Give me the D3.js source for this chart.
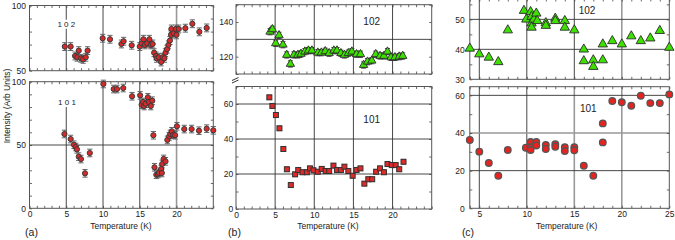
<!DOCTYPE html>
<html><head><meta charset="utf-8">
<script src="https://cdn.jsdelivr.net/npm/d3@7"></script>
<style>body{margin:0;background:#fff}text{font-family:"Liberation Sans",Arial,sans-serif;fill:#222}</style>
</head><body><svg id="c" width="675" height="240"></svg>
<script>
// ---------- data ----------
const a102T = [4.8,5.6,6.2,6.5,6.7,7.0,7.3,7.65,7.9,9.95,10.95,12.5,12.8,13.9,15.0,15.25,15.5,15.7,16.0,16.3,16.5,16.75,16.95,17.2,17.3,17.6,17.9,18.1,18.35,18.5,18.7,18.9,19.1,19.25,19.3,19.6,19.9,20.0,20.3,21.2,22.15,23.1,24.1];
const a102I = [68.5,68.5,61.3,60.3,65.4,59.5,58.7,60.3,65.4,74.9,74.1,70.5,72.6,69.5,68.5,71,74.1,69.8,71,74.1,69.8,70.5,63.8,61.3,59.5,60.3,56.7,60.3,59.5,63.8,66.5,69.8,73.1,77.5,82,78.7,82,77.5,82,82.6,86,79.8,82.8];
const a101T = [4.75,5.6,6.05,6.3,6.45,6.7,7.0,7.55,8.2,10.05,11.45,11.9,12.75,13.95,15.05,15.25,15.45,15.6,15.8,16.1,16.25,16.5,16.7,16.85,17.0,17.25,17.45,17.6,17.9,18.0,18.05,18.25,18.5,18.75,19.0,19.15,19.35,19.55,19.8,20.05,21.05,22.05,23.05,24.1,25.0];
const a101I = [58.7,54.7,50.2,48.4,46.6,40.8,38.9,27.6,43.7,98.2,94.2,94.2,95,88.5,89.2,81.8,84,80.8,82.6,87.7,84,80.8,85,57.7,32.4,26.5,27.1,27.9,31,27.9,35,39,37.1,54,56.8,58.7,60.8,58.1,57.7,64.8,62.6,62.6,61.3,62.9,61.6];
const b102T = [4.35,4.65,5.07,5.5,6.0,6.48,6.95,7.4,7.9,8.3,8.8,9.25,9.7,10.45,10.9,11.4,11.9,12.5,12.9,13.4,13.85,14.35,14.8,15.4,15.9,16.3,16.8,17.35,17.85,18.4,18.9,19.35,19.8,20.3,20.85,21.3];
const b102I = [134.4,135.8,127.7,132.3,126.9,121,115.8,121,121,121.6,122.9,123.5,123.5,122.3,122.3,123.1,122,123.5,123.5,122,121,122,122.9,121.4,121.4,115.2,117.1,117.7,121.4,120.4,120.4,122.9,119.6,119.6,120,120.4];
const b101T = [4.26,4.65,5.1,5.55,6.05,6.5,7.0,7.55,7.95,8.5,9.05,9.45,9.9,10.45,10.95,11.45,11.9,12.45,12.9,13.4,13.85,14.35,14.9,15.4,15.9,16.4,16.9,17.4,17.9,18.4,18.9,19.35,19.9,20.4,20.85,21.4];
const b101I = [63.8,58.9,53.7,46.1,34.3,22.7,13.7,19.8,22.3,21,21,23.2,22.1,21.3,22.9,21.7,21.7,24.8,22.3,22.3,24.2,21.7,19,22.3,23.2,14.5,17,17,21.3,23.2,21,25.7,25.1,25.1,22.7,27];
const c102T = [4,5,6,7,8,9.7,9.95,10.4,10.5,10.5,10.5,10.75,11,11.1,12,12,13,13,14,14,15,16,16,17,17,18,18,19,20,21,22,23,24,25];
const c102I = [40.3,38.4,37.3,35.8,46.4,52.9,50,52.5,50.9,48.7,47.3,50,52,49.5,48.8,47.9,50.3,49.5,49.5,47.3,46.4,40,36.1,36.4,34.2,36.4,41.7,42.8,41.7,44.4,42.8,43.7,46.2,40.6];
const c101T = [4,5,6,7,8,9.9,10.4,10.4,10.4,11,11,12,12,13,13,14,14,15,15,16,17,18,18,19,20,21,22,23,24,25];
const c101I = [36.3,30.1,24.1,17.3,31,32.2,35.2,32.4,31,35.2,33.4,33.6,31.5,34,32.7,32.4,30.4,32.4,30.8,22.6,17.3,35,45.1,57,56.3,54.5,59.8,55.9,55.9,60.5];
const errA = 3, errB = 1.2;
const xTicksAB = [0,5,10,15,20], xTicksC = [5,10,15,20,25];
const yTicksA102 = [50,100], yTicksA101 = [0,50,100];
const yTicksB102 = [120,140], yTicksB101 = [0,20,40,60];
const yTicksC102 = [30,40,50], yTicksC101 = [0,20,40,60];
const labA = ["1 0 2","1 0 1"], labB = ["102","101"], labC = ["102","101"];
const panelNames = ["(a)","(b)","(c)"];
const xTitle = "Temperature (K)", yTitle = "Intensity (Arb Units)";

// ---------- drawing ----------
const svg = d3.select("#c");
const FS = 8.5;

function makePanel(cfg){
  const x = d3.scaleLinear().domain(cfg.xd).range(cfg.xr);
  const y = d3.scaleLinear().domain(cfg.yd).range(cfg.yr);
  const g = svg.append("g");
  const [X0,X1] = cfg.xr, [Y0,Y1] = cfg.yr;
  const bgLayer = g.append("g");
  g.selectAll(null).data(cfg.vGrid).join("line")
    .attr("x1",d=>x(d.v)).attr("x2",d=>x(d.v))
    .attr("y1",Y0).attr("y2",d=>d.top!==undefined?d.top:Y1)
    .attr("stroke",d=>d.c).attr("stroke-width",d=>d.w);
  g.selectAll(null).data(cfg.hGrid).join("line")
    .attr("x1",X0).attr("x2",X1).attr("y1",d=>y(d.v)).attr("y2",d=>y(d.v))
    .attr("stroke",d=>d.c).attr("stroke-width",d=>d.w);
  const labLayer = g.append("g");
  const xm = d3.range(Math.ceil(cfg.xd[0]), cfg.xd[1]+0.01, 1);
  const ym = d3.range(cfg.ymin[0], cfg.ymin[1]+0.01, cfg.ymin[2]);
  const strip = s => s.call(a=>a.select(".domain").remove()).call(a=>a.selectAll("line").attr("stroke","#444").attr("stroke-width",0.8));
  g.append("g").attr("transform",`translate(0,${Y0})`).call(d3.axisBottom(x).tickValues(xm).tickSize(-2.5).tickFormat("")).call(strip);
  g.append("g").attr("transform",`translate(0,${Y1})`).call(d3.axisTop(x).tickValues(xm).tickSize(-2.5).tickFormat("")).call(strip);
  g.append("g").attr("transform",`translate(${X0},0)`).call(d3.axisLeft(y).tickValues(ym).tickSize(-2.5).tickFormat("")).call(strip);
  g.append("g").attr("transform",`translate(${X1},0)`).call(d3.axisRight(y).tickValues(ym).tickSize(-2.5).tickFormat("")).call(strip);
  g.append("rect").attr("x",X0).attr("y",Y1).attr("width",X1-X0).attr("height",Y0-Y1)
    .attr("fill","none").attr("stroke","#555").attr("stroke-width",1);
  const yl = g.append("g").attr("transform",`translate(${X0},0)`)
    .call(d3.axisLeft(y).tickValues(cfg.yTicks).tickSize(0).tickPadding(cfg.pad).tickFormat(d3.format("d")));
  yl.select(".domain").remove();
  yl.selectAll("text").attr("font-size",FS).attr("font-family",null);
  if (cfg.xTicks){
    const xl = g.append("g").attr("transform",`translate(0,${Y0})`)
      .call(d3.axisBottom(x).tickValues(cfg.xTicks).tickSize(0).tickPadding(3).tickFormat(d3.format("d")));
    xl.select(".domain").remove();
    xl.selectAll("text").attr("font-size",FS).attr("font-family",null);
  }
  return {x,y,g,labLayer};
}

function errorBars(p, T, I, e, cap, col){
  const d = T.map((t,i)=>({t, v:I[i]}));
  const g = p.g.append("g").attr("stroke",col).attr("stroke-width",1);
  g.selectAll(null).data(d).join("line")
    .attr("x1",d=>p.x(d.t)).attr("x2",d=>p.x(d.t)).attr("y1",d=>p.y(d.v-e)).attr("y2",d=>p.y(d.v+e));
  [-e,e].forEach(s=>{
    g.selectAll(null).data(d).join("line")
      .attr("x1",d=>p.x(d.t)-cap).attr("x2",d=>p.x(d.t)+cap).attr("y1",d=>p.y(d.v+s)).attr("y2",d=>p.y(d.v+s));
  });
}
function circles(p,T,I,r,fill,stroke,sw){
  p.g.append("g").selectAll(null).data(T.map((t,i)=>({t,v:I[i]}))).join("circle")
    .attr("cx",d=>p.x(d.t)).attr("cy",d=>p.y(d.v)).attr("r",r)
    .attr("fill",fill).attr("stroke",stroke).attr("stroke-width",sw);
}
function squares(p,T,I,s,fill,stroke){
  p.g.append("g").selectAll(null).data(T.map((t,i)=>({t,v:I[i]}))).join("rect")
    .attr("x",d=>p.x(d.t)-s/2).attr("y",d=>p.y(d.v)-s/2).attr("width",s).attr("height",s)
    .attr("fill",fill).attr("stroke",stroke).attr("stroke-width",1);
}
function triangles(p,T,I,size,fill,stroke){
  const sym = d3.symbol(d3.symbolTriangle, size);
  p.g.append("g").selectAll(null).data(T.map((t,i)=>({t,v:I[i]}))).join("path")
    .attr("transform",d=>`translate(${p.x(d.t)},${p.y(d.v)})`).attr("d",sym)
    .attr("fill",fill).attr("stroke",stroke).attr("stroke-width",0.9);
}
function label(p, txt, cx, by, fs, bg){
  const t = p.labLayer.append("text").attr("x",cx).attr("y",by).attr("text-anchor","middle").attr("font-size",fs).text(txt);
  if (bg){
    const b = t.node().getBBox();
    p.labLayer.insert("rect", () => t.node()).attr("x",b.x-1).attr("y",b.y).attr("width",b.width+2)
      .attr("height",b.height).attr("fill","#fff");
  }
}

const blk = ()=>({c:"#333",w:0.9}), gry = {c:"#999",w:1.6};
// ---- panel (a)
const aX = [29.5,213.3];
const aT = makePanel({xd:[0,25],xr:aX,yd:[50,100],yr:[70.7,5.5],yTicks:yTicksA102,pad:3.5,ymin:[50,100,10],
  vGrid:[{v:5,...blk()},{v:10,...blk()},{v:15,...blk()},{v:20,...gry}],hGrid:[]});
const aB = makePanel({xd:[0,25],xr:aX,yd:[0,100],yr:[208.3,81.7],yTicks:yTicksA101,pad:3.5,ymin:[0,100,10],xTicks:xTicksAB,
  vGrid:[{v:5,...blk(),top:107},{v:10,...blk()},{v:15,...blk()},{v:20,...gry}],hGrid:[{v:50,...blk()}]});
label(aT, labA[0], 66.3, 26.7, 8, true);
label(aB, labA[1], 67, 104.5, 8, false);
errorBars(aT,a102T,a102I,errA,2.6,"#666");
errorBars(aB,a101T,a101I,errA,2.6,"#666");
circles(aT,a102T,a102I,2.6,"#d62a2a","#3a3a3a",1);
circles(aB,a101T,a101I,2.6,"#d62a2a","#3a3a3a",1);

// ---- panel (b)
const bX = [236,431.7];
const bT = makePanel({xd:[0,25],xr:bX,yd:[110,150],yr:[74,4.7],yTicks:yTicksB102,pad:2.7,ymin:[110,150,10],
  vGrid:[5,10,15,20].map(v=>({v,...blk()})),hGrid:[{v:130,...blk()}]});
const bB = makePanel({xd:[0,25],xr:bX,yd:[0,70],yr:[209,86.5],yTicks:yTicksB101,pad:2.7,ymin:[0,70,10],xTicks:xTicksAB,
  vGrid:[5,10,15,20].map(v=>({v,...blk()})),hGrid:[20,40,60].map(v=>({v,...blk()}))});
label(bT, labB[0], 371.7, 25, 10, false);
label(bB, labB[1], 371.7, 122.7, 10, false);
errorBars(bT,b102T,b102I,errB*1.5,2.5,"#444");
triangles(bT,b102T,b102I,30,"#3ee000","#2a2a2a");
errorBars(bB,b101T,b101I,errB,2.5,"#444");
squares(bB,b101T,b101I,5,"#e02a2a","#333");
bT.g.append("path").attr("d","M232,80.5L238.5,77.5M232,83L238.5,80").attr("stroke","#333").attr("fill","none").attr("stroke-width",1);

// ---- panel (c)
const cX = [469.8,669.3];
const cT = makePanel({xd:[4,25],xr:cX,yd:[30,56.8],yr:[79.3,-1],yTicks:yTicksC102,pad:5,ymin:[30,55,5],
  vGrid:[{v:5,...blk()},{v:10,...blk()},{v:15,...blk()},{v:20,...gry}],hGrid:[{v:40,...blk()},{v:50,...blk()}]});
const cB = makePanel({xd:[4,25],xr:cX,yd:[0,64.6],yr:[208.3,86.7],yTicks:yTicksC101,pad:5,ymin:[0,60,10],xTicks:xTicksC,
  vGrid:[{v:5,...blk()},{v:10,...blk()},{v:15,...gry},{v:20,...gry}],hGrid:[{v:20,...blk()},{v:40,...gry},{v:60,...blk()}]});
label(cT, labC[0], 587, 14, 10, false);
label(cB, labC[1], 588.3, 112, 10, false);
triangles(cT,c102T,c102I,38,"#3ee000","#2a2a2a");
circles(cB,c101T,c101I,3.3,"#e8221e","#555",1.3);

// ---- titles
[121,328,566.7].forEach(cx=>{
  svg.append("text").attr("x",cx).attr("y",229).attr("text-anchor","middle").attr("font-size",FS).text(xTitle);
});
[31.5,234.5,468].forEach((cx,i)=>{
  svg.append("text").attr("x",cx).attr("y",236).attr("text-anchor","middle").attr("font-size",10.5).text(panelNames[i]);
});
svg.append("text").attr("transform","translate(10,106) rotate(-90)").attr("text-anchor","middle").attr("font-size",FS).text(yTitle);
</script></body></html>
